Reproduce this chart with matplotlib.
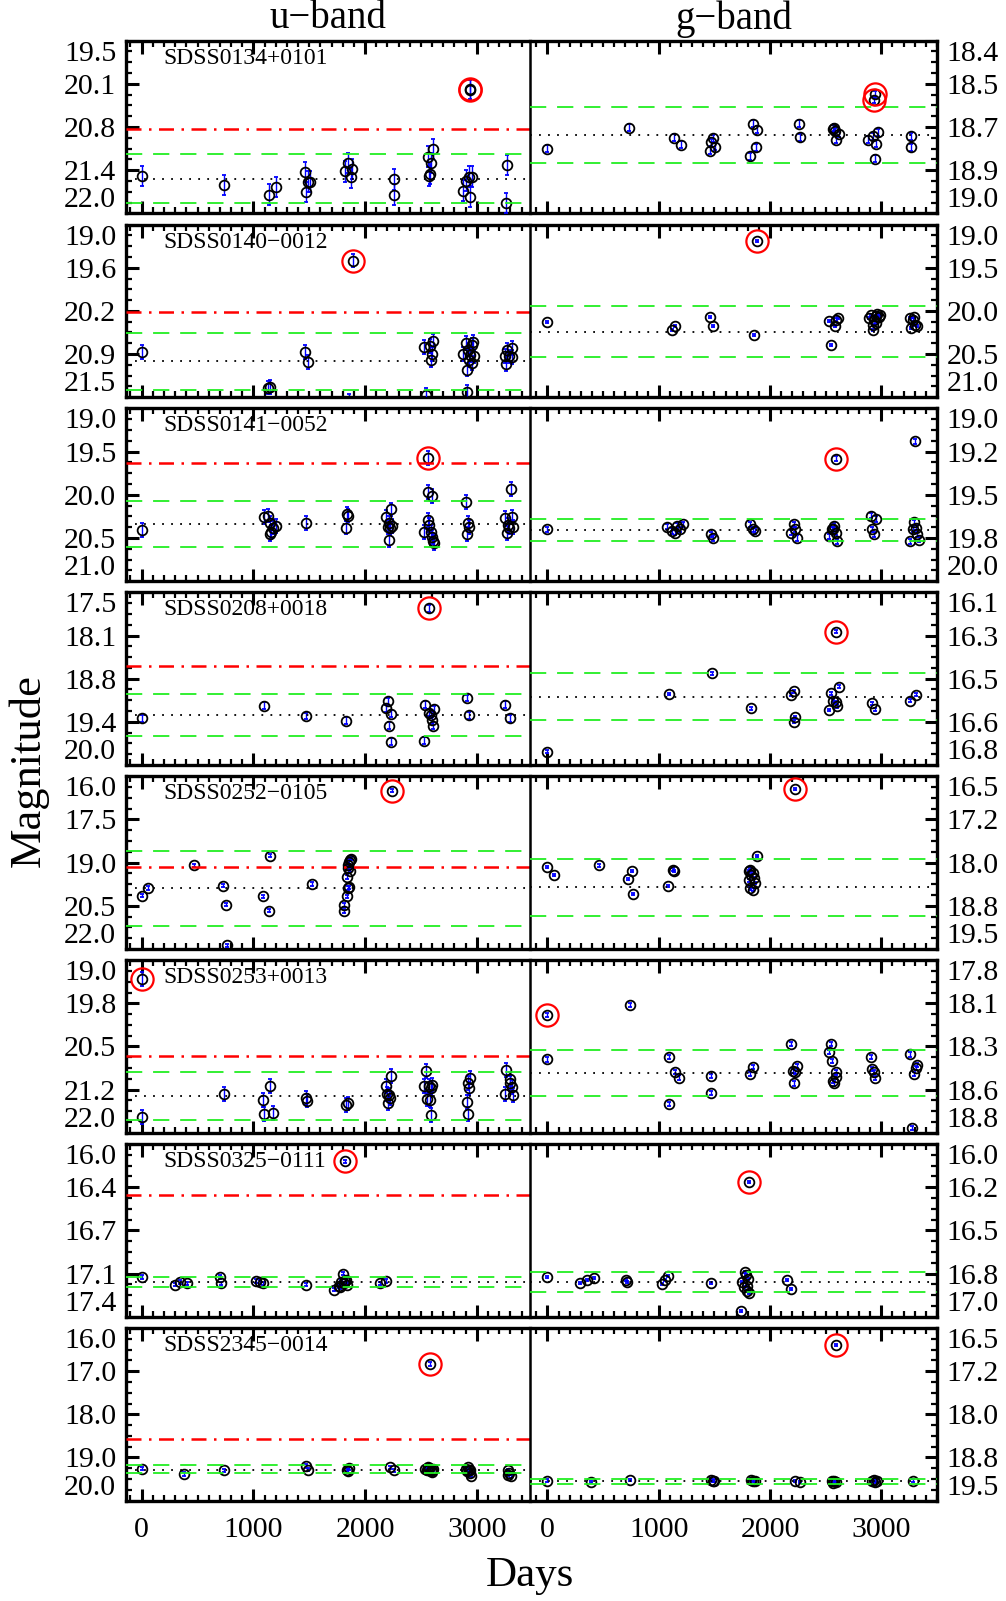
import numpy as np
import matplotlib
matplotlib.use('Agg')
import matplotlib.pyplot as plt
from matplotlib.ticker import MultipleLocator, AutoMinorLocator

plt.rcParams['font.family'] = ['Liberation Serif', 'DejaVu Serif']

names = ['SDSS0134+0101', 'SDSS0140\u22120012', 'SDSS0141\u22120052', 'SDSS0208+0018',
         'SDSS0252\u22120105', 'SDSS0253+0013', 'SDSS0325\u22120111', 'SDSS2345\u22120014']

# (day, mag) pairs for every panel
u1 = [(0, 21.46), (737, 21.59), (1143, 21.73), (1203, 21.62), (1466, 21.40), (1475, 21.69),
      (1493, 21.54), (1505, 21.54), (1818, 21.39), (1848, 21.27), (1884, 21.36), (1875, 21.48),
      (2260, 21.51), (2260, 21.73), (2561, 21.18), (2588, 21.27), (2612, 21.07), (2582, 21.43),
      (2576, 21.46), (2878, 21.67), (2904, 21.53), (2931, 21.47), (2958, 21.47), (2943, 21.76),
      (3266, 21.30), (3260, 21.85)]
g1 = [(0, 18.776), (737, 18.703), (1138, 18.737), (1204, 18.761), (1458, 18.783), (1467, 18.753),
      (1491, 18.739), (1503, 18.768), (1823, 18.802), (1850, 18.688), (1883, 18.710), (1877, 18.771),
      (2263, 18.688), (2269, 18.735), (2566, 18.706), (2581, 18.714), (2590, 18.745), (2620, 18.723),
      (2575, 18.703), (2883, 18.745), (2925, 18.733), (2952, 18.758), (2943, 18.811), (2967, 18.719),
      (3269, 18.733), (3269, 18.770)]
u2 = [(0, 20.84), (1128, 21.36), (1149, 21.35), (1466, 20.85), (1493, 20.99), (1854, 21.55),
      (2528, 20.77), (2582, 20.76), (2609, 20.68), (2603, 20.87), (2591, 20.96), (2549, 21.47),
      (2875, 20.87), (2899, 20.72), (2910, 21.10), (2910, 21.42), (2922, 20.81), (2940, 20.89),
      (2955, 20.74), (2970, 20.70), (2976, 20.91), (2961, 21.01), (2934, 20.96), (3254, 20.90),
      (3263, 21.02), (3269, 20.81), (3290, 20.91), (3313, 20.79), (3319, 20.92)]
g2 = [(0, 20.13), (1123, 20.22), (1150, 20.18), (1461, 20.07), (1488, 20.17), (1853, 20.28),
      (2527, 20.12), (2551, 20.39), (2581, 20.17), (2596, 20.10), (2614, 20.08), (2886, 20.08),
      (2910, 20.05), (2925, 20.22), (2934, 20.10), (2949, 20.06), (2964, 20.04), (2979, 20.07),
      (2991, 20.05), (2955, 20.14), (2922, 20.16), (3254, 20.08), (3284, 20.10), (3293, 20.07),
      (3269, 20.20), (3320, 20.18), (3299, 20.16)]
u3 = [(0, 20.41), (1097, 20.26), (1131, 20.24), (1145, 20.33), (1155, 20.43), (1179, 20.38),
      (1203, 20.36), (1145, 20.45), (1471, 20.33), (1825, 20.38), (1835, 20.22), (1849, 20.24),
      (2184, 20.26), (2203, 20.37), (2213, 20.33), (2223, 20.39), (2237, 20.36), (2233, 20.17),
      (2213, 20.52), (2529, 20.43), (2562, 19.97), (2601, 20.01), (2562, 20.29), (2572, 20.35),
      (2587, 20.43), (2597, 20.49), (2611, 20.53), (2621, 20.56), (2902, 20.08), (2917, 20.33),
      (2926, 20.37), (2912, 20.45), (3256, 20.27), (3276, 20.35), (3266, 20.44), (3290, 20.38),
      (3315, 20.26), (3305, 19.93), (3324, 20.37)]
g3 = [(0, 19.70), (1078, 19.685), (1117, 19.71), (1142, 19.72), (1166, 19.68), (1190, 19.70),
      (1215, 19.67), (1473, 19.73), (1483, 19.75), (1823, 19.67), (1848, 19.70), (1863, 19.71),
      (2189, 19.72), (2214, 19.67), (2228, 19.70), (2238, 19.75), (2530, 19.74), (2554, 19.70),
      (2579, 19.68), (2594, 19.72), (2604, 19.77), (2569, 19.70), (2904, 19.62), (2920, 19.70),
      (2934, 19.73), (2954, 19.64), (3260, 19.77), (3285, 19.70), (3309, 19.69), (3324, 19.73),
      (3334, 19.76), (3294, 19.66), (3299, 19.19)]
u4 = [(0, 19.32), (1092, 19.14), (1470, 19.29), (1825, 19.36), (2184, 19.18), (2209, 19.08),
      (2228, 19.26), (2213, 19.43), (2233, 19.66), (2529, 19.65), (2539, 19.13), (2572, 19.24),
      (2587, 19.27), (2601, 19.35), (2611, 19.43), (2621, 19.19), (2912, 19.03), (2932, 19.28),
      (3252, 19.13), (3300, 19.32)]
g4 = [(0, 16.746), (1094, 16.512), (1474, 16.427), (1825, 16.570), (2189, 16.516), (2214, 16.501),
      (2214, 16.624), (2228, 16.607), (2530, 16.577), (2545, 16.509), (2569, 16.539), (2589, 16.546),
      (2604, 16.562), (2618, 16.482), (2920, 16.550), (2945, 16.573), (3260, 16.539), (3309, 16.516)]
u5 = [(0, 20.15), (53, 19.88), (466, 19.10), (728, 19.80), (757, 20.46), (767, 21.88),
      (1082, 20.17), (1141, 20.67), (1145, 18.76), (1529, 19.74), (1810, 20.69), (1810, 20.48),
      (1835, 20.17), (1849, 19.88), (1859, 19.86), (1840, 19.50), (1869, 19.28), (1845, 19.19),
      (1849, 19.07), (1859, 18.98), (1869, 18.90), (1874, 18.86)]
g5 = [(0, 18.08), (55, 18.22), (460, 18.05), (727, 18.28), (761, 18.15), (766, 18.54),
      (1083, 18.41), (1130, 18.12), (1140, 18.14), (1809, 18.31), (1814, 18.15), (1823, 18.12),
      (1833, 18.21), (1848, 18.18), (1858, 18.27), (1868, 18.35), (1823, 18.45), (1848, 18.47),
      (1882, 17.88)]
u6 = [(0, 21.73), (738, 21.33), (1087, 21.43), (1092, 21.68), (1145, 21.19), (1179, 21.65),
      (1471, 21.40), (1480, 21.44), (1825, 21.51), (1849, 21.49), (2184, 21.19), (2198, 21.32),
      (2213, 21.35), (2223, 21.39), (2208, 21.48), (2233, 21.01), (2529, 21.19), (2543, 20.93),
      (2553, 21.42), (2572, 21.18), (2587, 21.22), (2597, 21.17), (2577, 21.43), (2587, 21.69),
      (2917, 21.13), (2926, 21.23), (2912, 21.46), (2917, 21.68), (2936, 21.04), (3252, 21.33),
      (3262, 20.91), (3300, 21.14), (3315, 21.20), (3324, 21.35), (3300, 21.07)]
g6 = [(0, 18.375), (745, 18.06), (1095, 18.36), (1095, 18.634), (1143, 18.45), (1182, 18.48),
      (1473, 18.472), (1473, 18.568), (1823, 18.46), (1848, 18.42), (2189, 18.286), (2204, 18.443),
      (2223, 18.45), (2238, 18.412), (2214, 18.514), (2530, 18.33), (2545, 18.286), (2555, 18.385),
      (2565, 18.50), (2579, 18.514), (2589, 18.475), (2594, 18.447), (2910, 18.36), (2920, 18.431),
      (2930, 18.447), (2945, 18.481), (3260, 18.346), (3274, 18.77), (3294, 18.457), (3309, 18.427),
      (3324, 18.408)]
u7 = [(0, 17.08), (296, 17.14), (345, 17.12), (403, 17.13), (704, 17.08), (709, 17.13),
      (1024, 17.11), (1058, 17.12), (1082, 17.13), (1471, 17.14), (1723, 17.18), (1762, 17.15),
      (1786, 17.12), (1800, 17.05), (1820, 17.11), (1835, 17.14), (1776, 17.16), (1810, 17.13),
      (1828, 17.10), (2135, 17.13), (2184, 17.11)]
g7 = [(0, 16.772), (292, 16.805), (351, 16.788), (414, 16.776), (706, 16.79), (716, 16.797),
      (1030, 16.81), (1054, 16.79), (1083, 16.762), (1473, 16.805), (1741, 16.965), (1775, 16.743),
      (1751, 16.80), (1766, 16.83), (1790, 16.85), (1800, 16.78), (1810, 16.86), (1785, 16.76),
      (1795, 16.82), (2150, 16.788), (2189, 16.84)]
u8 = [(0, 19.26), (378, 19.38), (733, 19.30), (1471, 19.20), (1485, 19.28), (1835, 19.28),
      (1859, 19.24), (1849, 19.31), (2222, 19.23), (2256, 19.30), (2538, 19.26), (2562, 19.30),
      (2587, 19.32), (2611, 19.27), (2562, 19.22), (2597, 19.34), (2550, 19.28), (2575, 19.25),
      (2600, 19.30), (2902, 19.26), (2926, 19.28), (2941, 19.36), (2951, 19.42), (2917, 19.23),
      (2935, 19.30), (2910, 19.32), (3276, 19.30), (3290, 19.37), (3305, 19.44), (3276, 19.40)]
g8 = [(0, 19.153), (390, 19.176), (740, 19.147), (1473, 19.135), (1483, 19.164), (1497, 19.153),
      (1833, 19.135), (1848, 19.153), (1863, 19.164), (2228, 19.164), (2270, 19.176), (2554, 19.164),
      (2579, 19.153), (2594, 19.176), (2569, 19.193), (2920, 19.164), (2945, 19.176), (2960, 19.153),
      (2932, 19.150), (3283, 19.153)]

# flagged flares (red circles)
u_flares = [[(2935, 20.20), (2940, 20.22)], [(1893, 19.52)], [(2562, 19.57)], [(2572, 17.73)],
            [(2237, 16.50)], [(0, 19.32)], [(1820, 16.14)], [(2577, 16.83)]]
g_flares = [[(2946, 18.586), (2937, 18.606)], [(1880, 19.19)], [(2589, 19.29)], [(2589, 16.259)],
            [(2228, 16.72)], [(0, 18.119)], [(1814, 16.218)], [(2589, 16.80)]]

u_points = [u1, u2, u3, u4, u5, u6, u7, u8]
g_points = [g1, g2, g3, g4, g5, g6, g7, g8]

# typical photometric error per panel
u_err = [0.15, 0.10, 0.08, 0.05, 0.06, 0.12, 0.015, 0.04]
g_err = [0.012, 0.012, 0.015, 0.006, 0.02, 0.012, 0.006, 0.02]

# reference levels: median, green band, red threshold
u_med = [21.50, 20.98, 20.34, 19.28, 19.88, 21.36, 17.116, 19.28]
u_hi = [21.14, 20.57, 20.07, 18.97, 18.58, 20.95, 17.076, 19.18]
u_lo = [21.855, 21.39, 20.60, 19.58, 21.19, 21.77, 17.162, 19.37]
u_red = [20.78, 20.27, 19.63, 18.57, 19.17, 20.66, 16.41, 18.57]
g_med = [18.728, 20.24, 19.705, 16.523, 18.42, 18.456, 16.797, 19.164]
g_hi = [18.632, 19.94, 19.64, 16.428, 17.93, 18.321, 16.739, 19.124]
g_lo = [18.824, 20.53, 19.77, 16.618, 18.92, 18.588, 16.855, 19.205]

u_ylim = [(19.5, 22.0), (19.0, 21.5), (19.0, 21.0), (17.5, 20.0), (16.0, 22.0), (19.0, 22.0),
          (16.0, 17.4), (16.0, 20.0)]
g_ylim = [(18.4, 19.0), (19.0, 21.0), (19.0, 20.0), (16.1, 16.8), (16.5, 19.5), (17.8, 18.8),
          (16.0, 17.0), (16.5, 19.5)]
u_ticklabels = [['19.5', '20.1', '20.8', '21.4', '22.0'], ['19.0', '19.6', '20.2', '20.9', '21.5'],
                ['19.0', '19.5', '20.0', '20.5', '21.0'], ['17.5', '18.1', '18.8', '19.4', '20.0'],
                ['16.0', '17.5', '19.0', '20.5', '22.0'], ['19.0', '19.8', '20.5', '21.2', '22.0'],
                ['16.0', '16.4', '16.7', '17.1', '17.4'], ['16.0', '17.0', '18.0', '19.0', '20.0']]
g_ticklabels = [['18.4', '18.5', '18.7', '18.9', '19.0'], ['19.0', '19.5', '20.0', '20.5', '21.0'],
                ['19.0', '19.2', '19.5', '19.8', '20.0'], ['16.1', '16.3', '16.5', '16.6', '16.8'],
                ['16.5', '17.2', '18.0', '18.8', '19.5'], ['17.8', '18.1', '18.3', '18.6', '18.8'],
                ['16.0', '16.2', '16.5', '16.8', '17.0'], ['16.5', '17.2', '18.0', '18.8', '19.5']]
x_ticks = [0, 1000, 2000, 3000]

W, H = 1006, 1601
fig = plt.figure(figsize=(W / 100, H / 100), dpi=100)

xl, xm, xr = 126 / W, 530 / W, 937 / W
top0, step, ph = 40.7, 183.9, 172.6
GREEN = '#22ee22'
TSIZE = 21.5


def style_axes(ax, side, ylim, labels, bottom_row):
    ax.set_ylim(ylim[1], ylim[0])
    ticks = np.linspace(ylim[0], ylim[1], 5)
    ax.set_yticks(ticks)
    ax.set_xticks(x_ticks)
    ax.xaxis.set_minor_locator(MultipleLocator(100))
    ax.yaxis.set_minor_locator(AutoMinorLocator(4))
    for sp in ax.spines.values():
        sp.set_linewidth(2.4)
    if side == 'left':
        ax.spines['right'].set_visible(False)
        ax.tick_params(axis='y', which='both', left=True, right=False,
                       labelleft=True, labelright=False)
    else:
        ax.spines['left'].set_linewidth(1.8)
        ax.tick_params(axis='y', which='both', left=False, right=True,
                       labelleft=False, labelright=True)
    ax.tick_params(axis='x', which='both', top=True, bottom=True,
                   labelbottom=bottom_row)
    ax.tick_params(which='both', direction='in', labelsize=TSIZE)
    ax.tick_params(which='major', length=9, width=2.2)
    ax.tick_params(which='minor', length=4.5, width=1.6)
    ax.tick_params(axis='y', pad=7)
    ax.tick_params(axis='x', pad=12)
    ax.set_yticklabels(labels)
    for i, tk in enumerate(ax.yaxis.get_major_ticks()):
        if i == 0:
            tk.label1.set_va('top')
            tk.label2.set_va('top')
        elif i == len(labels) - 1:
            tk.label1.set_va('bottom')
            tk.label2.set_va('bottom')


def draw_points(ax, pts, err, flares):
    t = np.array([p[0] for p in pts])
    m = np.array([p[1] for p in pts])
    ax.errorbar(t, m, yerr=err, fmt='o', ms=7, mfc='none', mec='black', mew=1.3,
                ecolor='blue', elinewidth=1.0, capsize=1.5, capthick=1.0, zorder=3)
    ft = np.array([p[0] for p in flares])
    fm = np.array([p[1] for p in flares])
    ax.errorbar(ft, fm, yerr=err, fmt='o', ms=7, mfc='none', mec='black', mew=1.3,
                ecolor='blue', elinewidth=1.0, capsize=1.5, capthick=1.0, zorder=3)
    ax.plot(ft, fm, 'o', ms=16, mfc='none', mec='red', mew=1.6, zorder=5)


for k in range(8):
    top = top0 + k * step
    b = 1 - (top + ph) / H
    axu = fig.add_axes([xl, b, xm - xl, ph / H])
    axg = fig.add_axes([xm, b, xr - xm, ph / H])
    axu.set_xlim(-140, 3476)
    axg.set_xlim(-157, 3500)

    draw_points(axu, u_points[k], u_err[k], u_flares[k])
    draw_points(axg, g_points[k], g_err[k], g_flares[k])

    axu.axhline(u_red[k], color='red', lw=1.8, ls=(0, (6, 3, 1, 3)), zorder=4)
    for ax, med, lo, hi in ((axu, u_med[k], u_lo[k], u_hi[k]), (axg, g_med[k], g_lo[k], g_hi[k])):
        ax.axhline(med, color='black', lw=1.3, ls=(0, (1, 4)), zorder=4)
        ax.axhline(lo, color=GREEN, lw=1.3, ls=(0, (9, 6)), zorder=4)
        ax.axhline(hi, color=GREEN, lw=1.3, ls=(0, (9, 6)), zorder=4)

    style_axes(axu, 'left', u_ylim[k], u_ticklabels[k], k == 7)
    style_axes(axg, 'right', g_ylim[k], g_ticklabels[k], k == 7)

    axu.text(0.092, 0.96, names[k], transform=axu.transAxes, ha='left', va='top',
             fontsize=17, zorder=6)

fig.text((xl + xm) / 2, 1 - 19 / H, 'u\u2212band', ha='center', va='center', fontsize=28)
fig.text((xm + xr) / 2, 1 - 19 / H, 'g\u2212band', ha='center', va='center', fontsize=28)
fig.text(29 / W, 1 - 771 / H, 'Magnitude', rotation=90, ha='center', va='center', fontsize=32)
fig.text(xm, 1 - 1576 / H, 'Days', ha='center', va='center', fontsize=31)

fig.savefig('out.png', dpi=100)
